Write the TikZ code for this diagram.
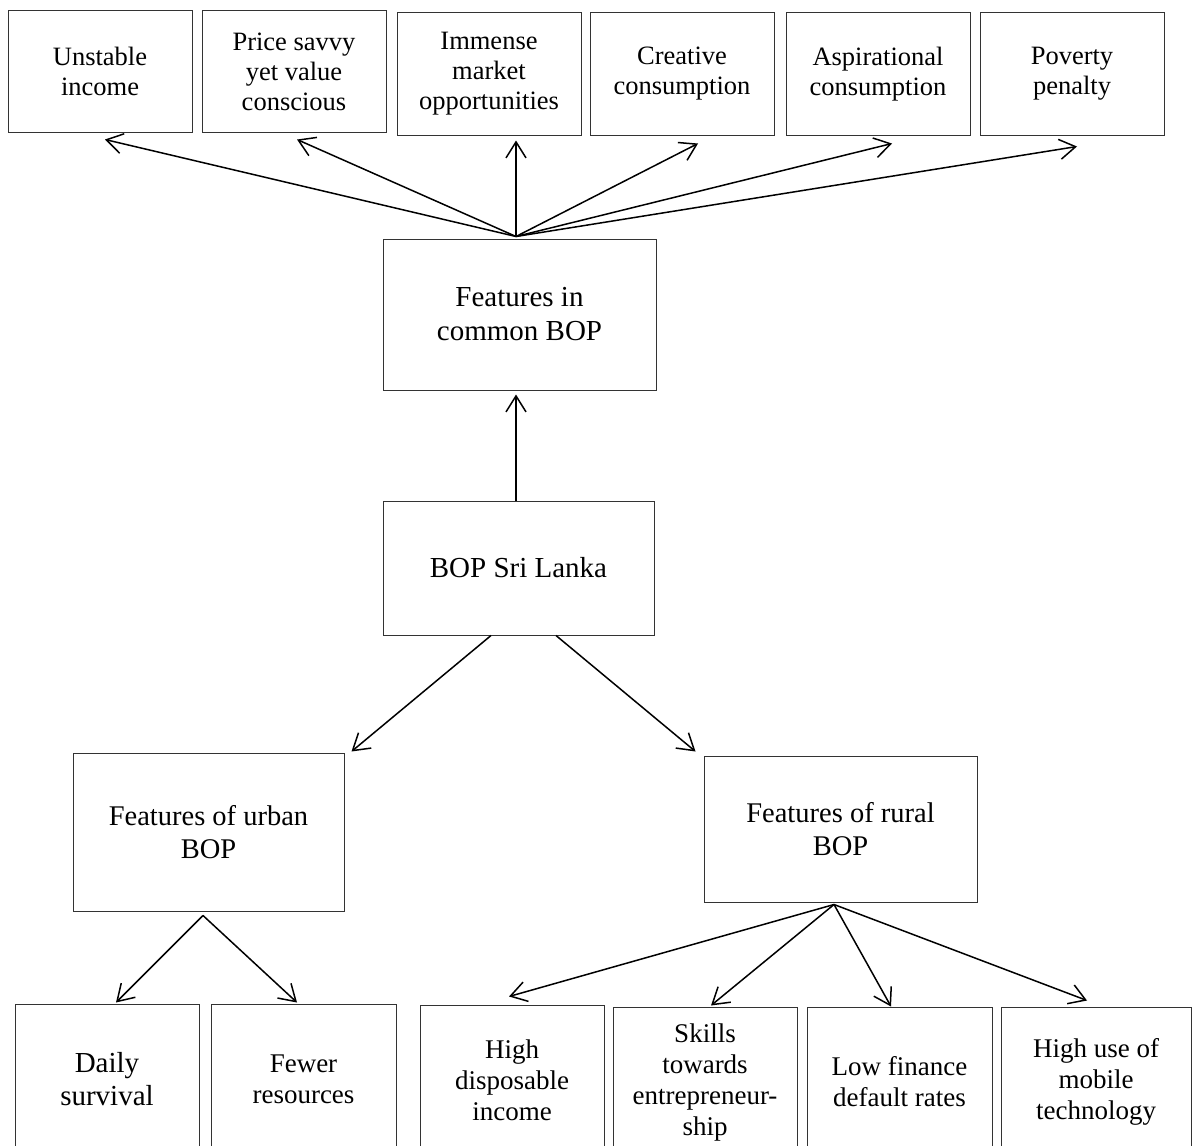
\documentclass[tikz,border=0pt]{standalone}
\usepackage{fontspec}
\setmainfont{Liberation Serif}
\usetikzlibrary{arrows.meta,calc}

\begin{document}
\begin{tikzpicture}[x=1pt,y=-1pt,
  box/.style={draw=black!80, line width=1pt, inner sep=0pt, align=center,
              minimum width=184pt},
  topbox/.style={box, minimum height=122pt, font=\fontsize{26.5}{30}\selectfont},
  midbox/.style={box, font=\fontsize{29}{34}\selectfont},
  botbox/.style={box, minimum height=150pt, font=\fontsize{27}{31}\selectfont},
  arr/.style={draw=black, line width=1.5pt,
              -{Straight Barb[length=16pt,width=20pt,line width=1.5pt]}}]

% page frame and clipping of the lowest row
\useasboundingbox (0,0) rectangle (1193,1145);
\fill[white] (0,0) rectangle (1193,1145);
\clip (0,0) rectangle (1193,1145);

% top row: common features
\node[topbox, minimum height=121pt] (unst)  at (100,71.5) {Unstable\\income};
\node[topbox, minimum height=121pt] (price) at (294,71.5) {Price savvy\\yet value\\conscious};
\node[topbox] (imm)   at (489,74)  {Immense\\market\\opportunities};
\node[topbox] (crea)  at (682,74)  {Creative\\consumption};
\node[topbox] (aspi)  at (878,74)  {Aspirational\\consumption};
\node[topbox] (pov)   at (1072,74) {Poverty\\penalty};

% central column
\node[midbox, minimum width=273pt, minimum height=151pt] (common) at (519.5,314.5) {Features in\\common BOP};
\node[midbox, minimum width=271pt, minimum height=134pt] (bop) at (518.5,568) {BOP Sri Lanka};

% urban and rural branches
\node[midbox, font=\fontsize{28.5}{33}\selectfont, minimum width=271pt, minimum height=158pt] (urban) at (208.5,832) {Features of urban\\BOP};
\node[midbox, font=\fontsize{28.5}{33}\selectfont, minimum width=273pt, minimum height=146pt] (rural) at (840.5,829) {Features of rural\\BOP};

% bottom row
\node[botbox, font=\fontsize{29}{33}\selectfont] (daily) at (107,1079) {Daily\\survival};
\node[botbox, minimum width=185pt] (fewer)  at (303.5,1079) {Fewer\\resources};
\node[botbox] (hdisp)  at (512,1080)  {High\\disposable\\income};
\node[botbox] (skills) at (705,1082)  {Skills\\towards\\entrepreneur-\\ship};
\node[botbox, minimum width=185pt] (lowfin) at (899.5,1082) {Low finance\\default rates};
\node[botbox, minimum width=190pt] (mobile) at (1096,1082) {High use of\\mobile\\technology};

% fan-out points
\coordinate (hub)  at ($(common.north)+(-3.5,-2)$);
\coordinate (uhub) at ($(urban.south)+(-5.5,4)$);
\coordinate (rhub) at ($(rural.south)+(-6.5,2)$);

% common features
\draw[arr] (hub) -- ($(unst.south)+(5,7)$);
\draw[arr] (hub) -- ($(price.south)+(3,7)$);
\draw[arr] (hub) -- ($(imm.south)+(27,5)$);
\draw[arr] (hub) -- ($(crea.south)+(16,8)$);
\draw[arr] (hub) -- ($(aspi.south)+(14,8)$);
\draw[arr] (hub) -- ($(pov.south)+(5,11)$);

% BOP Sri Lanka links
\draw[arr] ($(bop.north)+(-2.5,0)$) -- ($(common.south)+(-3.5,4)$);
\draw[arr] ($(bop.south)+(-27.5,0)$) -- ($(urban.north east)+(7,-1)$);
\draw[arr] ($(bop.south)+(37.5,0)$) -- ($(rural.north west)+(-8,-4)$);

% urban features
\draw[arr] (uhub) -- ($(daily.north)+(9,-1)$);
\draw[arr] (uhub) -- ($(fewer.north)+(-6.5,-1)$);

% rural features
\draw[arr] (rhub) -- ($(hdisp.north)+(-3,-8)$);
\draw[arr] (rhub) -- ($(skills.north)+(6,-1)$);
\draw[arr] (rhub) -- ($(lowfin.north)+(-8.5,0)$);
\draw[arr] (rhub) -- ($(mobile.north)+(-9,-6)$);
\end{tikzpicture}
\end{document}
